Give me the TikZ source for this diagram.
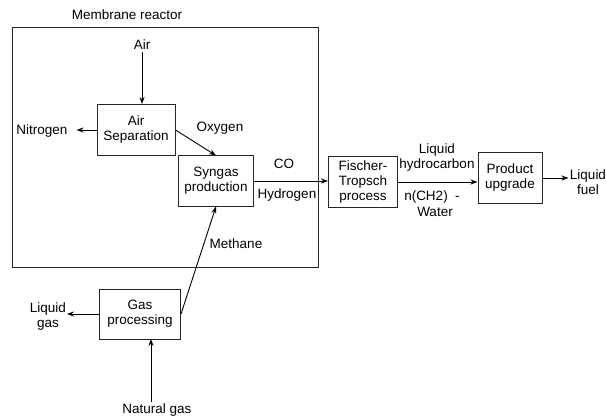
\documentclass[tikz,border=0pt]{standalone}
\usepackage{fontspec}
\setmainfont{Liberation Sans}
\usetikzlibrary{arrows.meta}

\begin{document}
\begin{tikzpicture}[x=1pt, y=-1pt,
    font=\fontsize{13.5}{15}\selectfont,
    unit/.style={draw=black!85, line width=1pt, align=center, inner sep=2pt},
    lbl/.style={align=center, inner sep=2pt},
    flow/.style={-{Stealth[length=7pt, width=5pt]}, line width=0.9pt}]
    \useasboundingbox (0,0) rectangle (606,420);
    % Membrane reactor boundary
    \node[draw=black!85, line width=1pt, minimum width=306pt, minimum height=239pt] (reactor) at (165,147.5) {};
    \node[lbl] (title) at (127,15) {Membrane reactor};
    % Process units
    \node[unit, minimum width=78pt, minimum height=51pt] (airsep) at (136,130) {Air\\Separation};
    \node[unit, minimum width=75pt, minimum height=50pt] (syngas) at (216,181) {Syngas\\production};
    \node[unit, minimum width=69pt, minimum height=50pt] (ft) at (363,182) {Fischer-\\Tropsch\\process};
    \node[unit, minimum width=64pt, minimum height=50pt] (upgrade) at (510,178) {Product\\upgrade};
    \node[unit, minimum width=81pt, minimum height=50pt] (gasproc) at (140,314) {Gas\\processing};
    % Stream labels
    \node[lbl] (air) at (142,45) {Air};
    \node[lbl] (nitrogen) at (42,131) {Nitrogen};
    \node[lbl] (oxygen) at (220,128) {Oxygen};
    \node[lbl] (co) at (284,164) {CO};
    \node[lbl] (hydrogen) at (287,195) {Hydrogen};
    \node[lbl] (methane) at (236,244) {Methane};
    \node[lbl] (liqhc) at (437,158) {Liquid\\hydrocarbon};
    \node[lbl] (nch) at (432,197) {n(CH2)~~-};
    \node[lbl] (water) at (435,212) {Water};
    \node[lbl] (fuel) at (588,182) {Liquid\\fuel};
    \node[lbl] (liqgas) at (48,317) {Liquid\\gas};
    \node[lbl] (natgas) at (157,410) {Natural gas};
    \coordinate (ngin) at (151,339);
    % Flows
    \draw[flow] (air.south) -- (airsep.north -| air.south);
    \draw[flow] (airsep.west) -- ++(-20,0);
    \draw[flow] (airsep.east) -- (syngas.north);
    \draw[flow] (syngas.east) -- (syngas.east -| ft.west);
    \draw[flow] (ft.east) -- (ft.east -| upgrade.west);
    \draw[flow] (upgrade.east) -- ++(26,0);
    \draw[flow] (gasproc.east) -- (syngas.south);
    \draw[flow] (gasproc.west) -- ++(-32,0);
    \draw[flow] (natgas.north -| ngin) -- (ngin);
\end{tikzpicture}
\end{document}
